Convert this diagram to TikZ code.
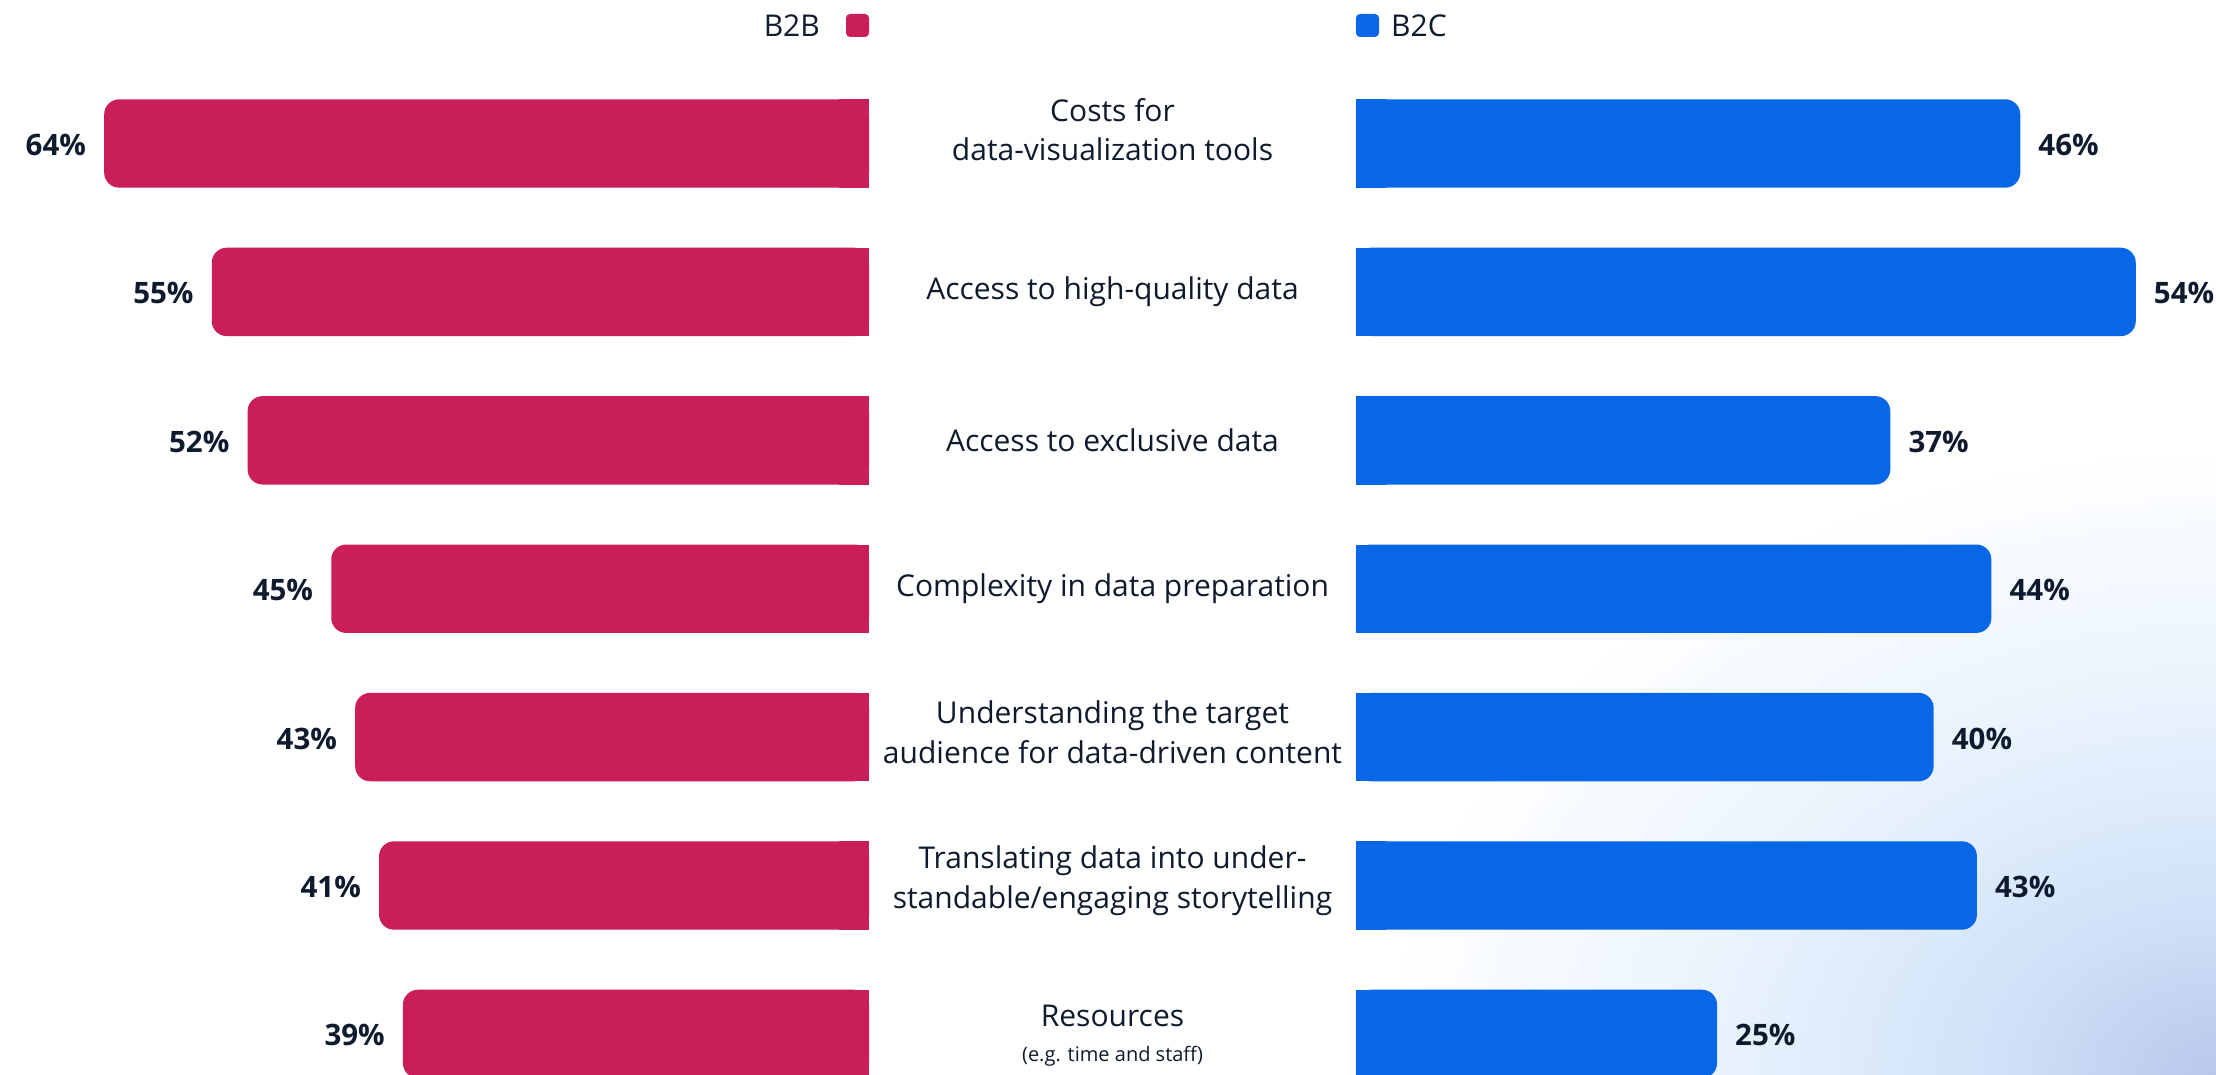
\documentclass[tikz,border=0pt]{standalone}
\usepackage{fontspec}
\setmainfont{Open Sans}
\definecolor{b2b}{RGB}{201,30,90}
\definecolor{b2c}{RGB}{8,103,230}
\definecolor{ink}{RGB}{14,27,46}
\definecolor{glowA}{RGB}{186,199,235}
\definecolor{glowB}{RGB}{208,226,248}
\definecolor{glowC}{RGB}{233,243,253}
\pgfdeclareradialshading{glow}{\pgfpoint{0bp}{0bp}}{color(0bp)=(glowA); color(4bp)=(glowB); color(9bp)=(glowC); color(15bp)=(white); color(50bp)=(white)}
\newcommand\chartrow[6]{%
  \pgfmathsetmacro\xl{869-11.95*#3}%
  \pgfmathsetmacro\xr{1356+14.44*#4}%
  \fill[b2b,rounded corners=15pt] (\xl,#2-44.2) rectangle (869,#2+44.2);
  \fill[b2b] (839,#2-44.2) rectangle (869,#2+44.2);
  \fill[b2c,rounded corners=15pt] (1356,#2-44.2) rectangle (\xr,#2+44.2);
  \fill[b2c] (1356,#2-44.2) rectangle (1386,#2+44.2);
  \node[pct,anchor=base east] (l#1) at (\xl-18,#2+12) {#3\%};
  \node[pct,anchor=base west] (r#1) at (\xr+18,#2+12) {#4\%};
  \node[cat] (c#1) at (1112.5,#2+#6) {#5};
}
\begin{document}
\begin{tikzpicture}[x=1pt,y=-1pt,
  pct/.style={inner sep=0pt,text=ink,font=\fontsize{29.5}{35}\selectfont\bfseries},
  cat/.style={inner sep=0pt,text=ink,align=center,font=\fontsize{30}{39.5}\selectfont},
  leg/.style={inner sep=0pt,text=ink,font=\fontsize{30}{36}\selectfont}]
\useasboundingbox (0,0) rectangle (2216,1075);
\begin{scope}
  \clip (0,0) rectangle (2216,1075);
  \fill[white] (0,0) rectangle (2216,1075);
  \shade[shading=glow] (2216,1075) ellipse [x radius=1400, y radius=1050];
\end{scope}
% legend
\node[leg,anchor=base east] (legb2b) at (820,36.5) {B2B};
\fill[b2b,rounded corners=4pt] (846,14) rectangle (869,37);
\fill[b2c,rounded corners=4pt] (1356,14) rectangle (1379,37);
\node[leg,anchor=base west] (legb2c) at (1391,36.5) {B2C};
% rows
\chartrow{1}{143.5}{64}{46}{Costs for\\data-visualization tools}{-14}
\chartrow{2}{291.9}{55}{54}{Access to high-quality data}{0}
\chartrow{3}{440.3}{52}{37}{Access to exclusive data}{0}
\chartrow{4}{588.7}{45}{44}{Complexity in data preparation}{0}
\chartrow{5}{737.1}{43}{40}{Understanding the target\\audience for data-driven content}{-5}
\chartrow{6}{885.5}{41}{43}{Translating data into under-\\standable/engaging storytelling}{-5}
\chartrow{7}{1033.9}{39}{25}{Resources\\[-5pt]{\fontsize{20}{25}\selectfont(e.g. time and staff)}}{2}
\end{tikzpicture}
\end{document}
